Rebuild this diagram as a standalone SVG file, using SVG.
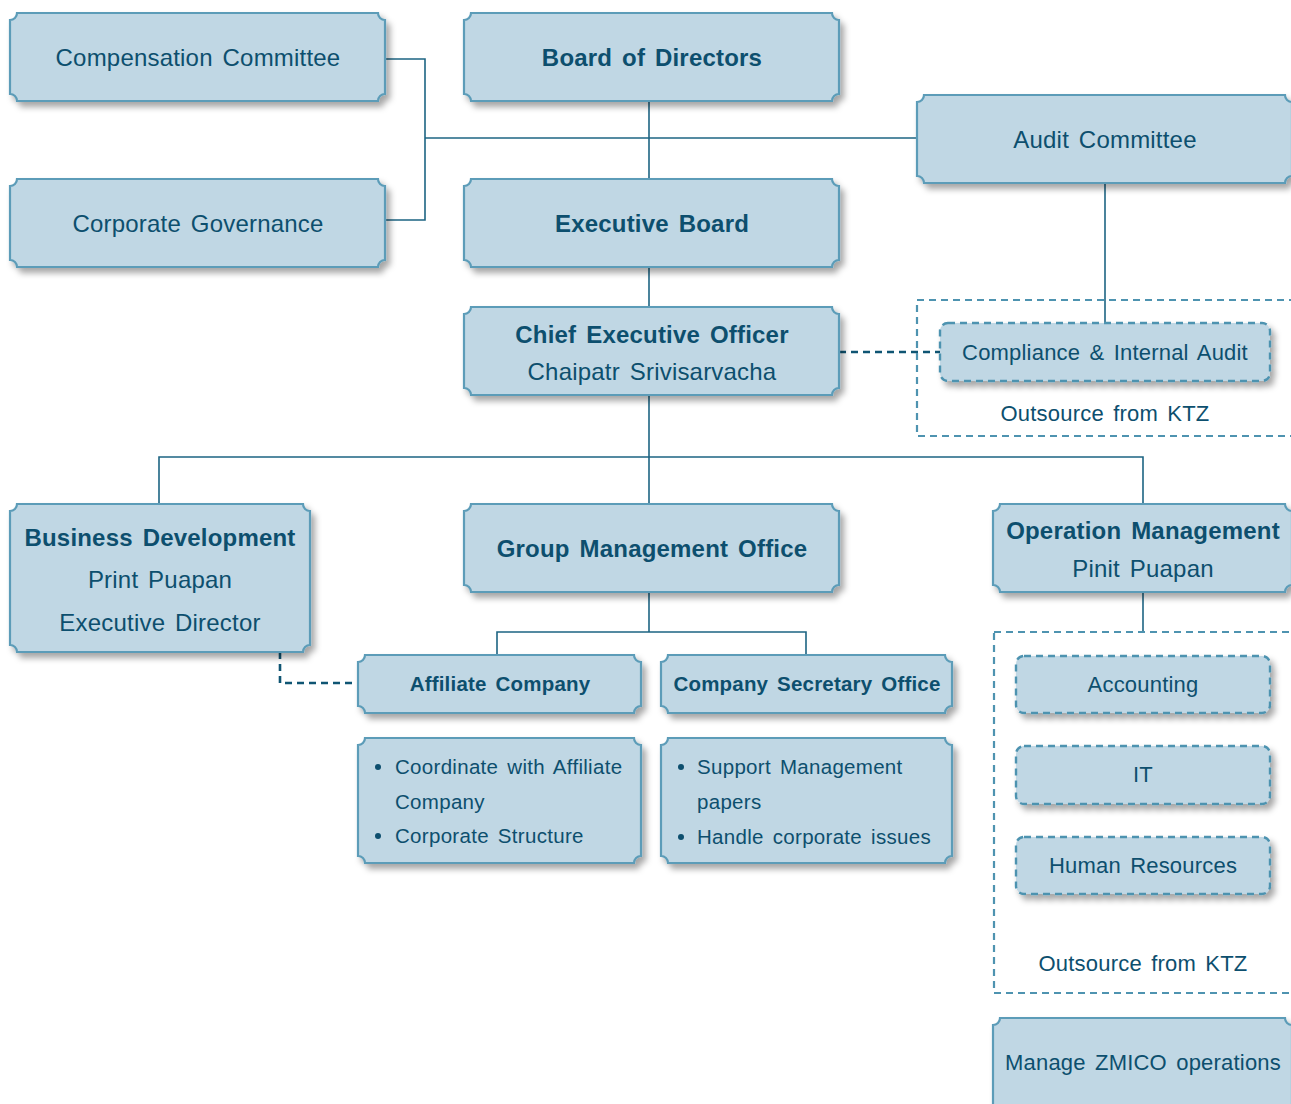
<svg xmlns="http://www.w3.org/2000/svg" width="1291" height="1104" viewBox="0 0 1291 1104">
<style>
.box{fill:#c0d7e4;stroke:#5b9cb8;stroke-width:2.2;filter:url(#sh)}
.dbox{fill:#c0d7e4;stroke:#4e93b0;stroke-width:2.4;stroke-dasharray:7 5;filter:url(#sh)}
.region{fill:none;stroke:#4e93b0;stroke-width:2.2;stroke-dasharray:7 5}
.ln{fill:none;stroke:#1d6483;stroke-width:1.6}
.dln{fill:none;stroke:#0f5573;stroke-width:2.6;stroke-dasharray:7 5}
text{font-family:"Liberation Sans",Arial,Helvetica,sans-serif;fill:#0d4f6e;text-anchor:middle;word-spacing:3px;letter-spacing:0.2px}
.t{font-size:24px}
.b{font-size:24px;font-weight:bold}
.s{font-size:22px}
.sb{font-size:20.5px;font-weight:bold}
.li{font-size:20.5px;text-anchor:start;letter-spacing:0.3px}
.dot{fill:#0d4f6e}
</style>
<defs>
<filter id="sh" x="-10%" y="-20%" width="130%" height="150%">
<feDropShadow dx="4" dy="5" stdDeviation="3" flood-color="#000" flood-opacity="0.35"/>
</filter>
</defs>

<g id="connectors">
<path class="ln" d="M385,59 H425 V220 H385"/>
<path class="ln" d="M425,138 H917"/>
<path class="ln" d="M649,101 V179"/>
<path class="ln" d="M649,267 V307"/>
<path class="ln" d="M1105,183 V323"/>
<path class="dln" d="M839,352 H940"/>
<path class="ln" d="M649,395 V504"/>
<path class="ln" d="M159,504 V457 H1143 V504"/>
<path class="ln" d="M649,592 V632"/>
<path class="ln" d="M497,655 V632 H806 V655"/>
<path class="dln" d="M280,652 V683 H358"/>
<path class="ln" d="M1143,592 V631"/>
</g>

<g id="region-audit">
<rect class="region" x="917" y="300" width="380" height="136"/>
<text class="s" x="1105" y="421">Outsource from KTZ</text>
</g>
<g id="region-operation">
<rect class="region" x="994" y="632" width="303" height="361"/>
<text class="s" x="1143" y="971">Outsource from KTZ</text>
</g>

<g id="compensation-committee">
<path class="box" d="M17,13 H378 A7,7 0 0 0 385,20 V94 A7,7 0 0 0 378,101 H17 A7,7 0 0 0 10,94 V20 A7,7 0 0 0 17,13 Z"/>
<text class="t" x="198" y="66">Compensation Committee</text>
</g>
<g id="corporate-governance">
<path class="box" d="M17,179 H378 A7,7 0 0 0 385,186 V260 A7,7 0 0 0 378,267 H17 A7,7 0 0 0 10,260 V186 A7,7 0 0 0 17,179 Z"/>
<text class="t" x="198" y="232">Corporate Governance</text>
</g>
<g id="board-of-directors">
<path class="box" d="M471,13 H832 A7,7 0 0 0 839,20 V94 A7,7 0 0 0 832,101 H471 A7,7 0 0 0 464,94 V20 A7,7 0 0 0 471,13 Z"/>
<text class="b" x="652" y="66">Board of Directors</text>
</g>
<g id="executive-board">
<path class="box" d="M471,179 H832 A7,7 0 0 0 839,186 V260 A7,7 0 0 0 832,267 H471 A7,7 0 0 0 464,260 V186 A7,7 0 0 0 471,179 Z"/>
<text class="b" x="652" y="232">Executive Board</text>
</g>
<g id="audit-committee">
<path class="box" d="M924,95 H1285 A7,7 0 0 0 1292,102 V176 A7,7 0 0 0 1285,183 H924 A7,7 0 0 0 917,176 V102 A7,7 0 0 0 924,95 Z"/>
<text class="t" x="1105" y="148">Audit Committee</text>
</g>
<g id="ceo">
<path class="box" d="M471,307 H832 A7,7 0 0 0 839,314 V388 A7,7 0 0 0 832,395 H471 A7,7 0 0 0 464,388 V314 A7,7 0 0 0 471,307 Z"/>
<text class="b" x="652" y="343">Chief Executive Officer</text>
<text class="t" x="652" y="380">Chaipatr Srivisarvacha</text>
</g>
<g id="compliance-internal-audit">
<rect class="dbox" x="940" y="323" width="330" height="58" rx="8"/>
<text class="s" x="1105" y="360">Compliance &amp; Internal Audit</text>
</g>
<g id="business-development">
<path class="box" d="M17,504 H303 A7,7 0 0 0 310,511 V645 A7,7 0 0 0 303,652 H17 A7,7 0 0 0 10,645 V511 A7,7 0 0 0 17,504 Z"/>
<text class="b" x="160" y="546">Business Development</text>
<text class="t" x="160" y="588">Print Puapan</text>
<text class="t" x="160" y="631">Executive Director</text>
</g>
<g id="group-management-office">
<path class="box" d="M471,504 H832 A7,7 0 0 0 839,511 V585 A7,7 0 0 0 832,592 H471 A7,7 0 0 0 464,585 V511 A7,7 0 0 0 471,504 Z"/>
<text class="b" x="652" y="557">Group Management Office</text>
</g>
<g id="operation-management">
<path class="box" d="M1000,504 H1285 A7,7 0 0 0 1292,511 V585 A7,7 0 0 0 1285,592 H1000 A7,7 0 0 0 993,585 V511 A7,7 0 0 0 1000,504 Z"/>
<text class="b" x="1143" y="539">Operation Management</text>
<text class="t" x="1143" y="577">Pinit Puapan</text>
</g>
<g id="affiliate-company">
<path class="box" d="M365,655 H634 A7,7 0 0 0 641,662 V706 A7,7 0 0 0 634,713 H365 A7,7 0 0 0 358,706 V662 A7,7 0 0 0 365,655 Z"/>
<text class="sb" x="500" y="691">Affiliate Company</text>
</g>
<g id="company-secretary-office">
<path class="box" d="M668,655 H945 A7,7 0 0 0 952,662 V706 A7,7 0 0 0 945,713 H668 A7,7 0 0 0 661,706 V662 A7,7 0 0 0 668,655 Z"/>
<text class="sb" x="807" y="691">Company Secretary Office</text>
</g>
<g id="affiliate-duties">
<path class="box" d="M365,738 H634 A7,7 0 0 0 641,745 V856 A7,7 0 0 0 634,863 H365 A7,7 0 0 0 358,856 V745 A7,7 0 0 0 365,738 Z"/>
<circle class="dot" cx="378" cy="767" r="3"/>
<text class="li" x="395" y="774">Coordinate with Affiliate</text>
<text class="li" x="395" y="809">Company</text>
<circle class="dot" cx="378" cy="836" r="3"/>
<text class="li" x="395" y="843">Corporate Structure</text>
</g>
<g id="secretary-duties">
<path class="box" d="M668,738 H945 A7,7 0 0 0 952,745 V856 A7,7 0 0 0 945,863 H668 A7,7 0 0 0 661,856 V745 A7,7 0 0 0 668,738 Z"/>
<circle class="dot" cx="681" cy="767" r="3"/>
<text class="li" x="697" y="774">Support Management</text>
<text class="li" x="697" y="809">papers</text>
<circle class="dot" cx="681" cy="837" r="3"/>
<text class="li" x="697" y="844">Handle corporate issues</text>
</g>
<g id="accounting">
<rect class="dbox" x="1016" y="656" width="254" height="57" rx="8"/>
<text class="s" x="1143" y="692">Accounting</text>
</g>
<g id="it">
<rect class="dbox" x="1016" y="746" width="254" height="58" rx="8"/>
<text class="s" x="1143" y="782">IT</text>
</g>
<g id="human-resources">
<rect class="dbox" x="1016" y="837" width="254" height="57" rx="8"/>
<text class="s" x="1143" y="873">Human Resources</text>
</g>
<g id="manage-zmico">
<path class="box" d="M1000,1018 H1285 A7,7 0 0 0 1292,1025 V1110 H993 V1025 A7,7 0 0 0 1000,1018 Z"/>
<text class="s" x="1143" y="1070">Manage ZMICO operations</text>
</g>
</svg>
